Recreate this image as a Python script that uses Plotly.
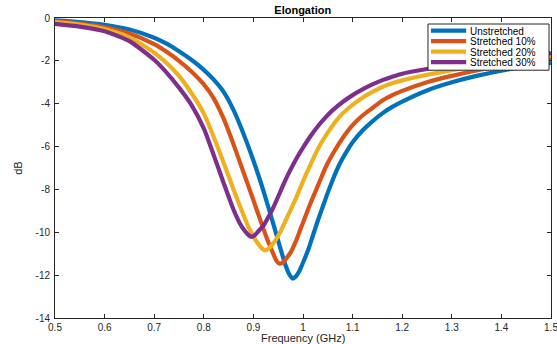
import plotly.graph_objects as go

# ---- data ----
f_unstretched = [0.5, 0.55, 0.6, 0.65, 0.7, 0.725, 0.75, 0.775, 0.8, 0.82, 0.84, 0.86, 0.88, 0.9, 0.92,
                 0.94, 0.955, 0.965, 0.972, 0.979, 0.986, 0.993, 1.0, 1.01, 1.02, 1.03, 1.04, 1.05, 1.06,
                 1.07, 1.08, 1.09, 1.1, 1.12, 1.14, 1.16, 1.18, 1.2, 1.25, 1.3, 1.35, 1.4, 1.45, 1.5]
db_unstretched = [-0.11, -0.19, -0.32, -0.54, -0.92, -1.2, -1.55, -1.95, -2.42, -2.88, -3.45, -4.3, -5.4,
                  -6.65, -8.05, -9.6, -10.8, -11.55, -11.95, -12.16, -12.05, -11.8, -11.42, -10.85, -10.15,
                  -9.45, -8.8, -8.15, -7.55, -7.0, -6.55, -6.15, -5.8, -5.25, -4.82, -4.45, -4.15, -3.9,
                  -3.38, -3.0, -2.7, -2.46, -2.26, -2.1]

f_s10 = [0.5, 0.55, 0.6, 0.65, 0.7, 0.725, 0.75, 0.775, 0.8, 0.82, 0.84, 0.86, 0.88, 0.9, 0.915, 0.93,
         0.94, 0.947, 0.953, 0.96, 0.967, 0.975, 0.985, 0.995, 1.005, 1.015, 1.025, 1.035, 1.045, 1.055,
         1.065, 1.08, 1.1, 1.12, 1.14, 1.16, 1.18, 1.2, 1.25, 1.3, 1.35, 1.4, 1.45, 1.5]
db_s10 = [-0.16, -0.26, -0.43, -0.72, -1.22, -1.58, -2.0, -2.5, -3.1, -3.75, -4.7, -5.9, -7.2, -8.5, -9.5,
          -10.45, -11.0, -11.35, -11.46, -11.4, -11.2, -10.95, -10.45, -9.85, -9.25, -8.65, -8.1, -7.55,
          -7.0, -6.55, -6.15, -5.6, -5.0, -4.55, -4.2, -3.85, -3.6, -3.4, -3.0, -2.7, -2.45, -2.24, -2.05, -1.9]

f_s20 = [0.5, 0.55, 0.6, 0.65, 0.7, 0.725, 0.75, 0.775, 0.8, 0.82, 0.84, 0.86, 0.875, 0.89, 0.9, 0.91,
         0.917, 0.923, 0.93, 0.937, 0.945, 0.955, 0.965, 0.975, 0.985, 0.995, 1.005, 1.015, 1.025, 1.035,
         1.05, 1.065, 1.08, 1.1, 1.12, 1.14, 1.16, 1.18, 1.2, 1.25, 1.3, 1.35, 1.4, 1.45, 1.5]
db_s20 = [-0.19, -0.31, -0.52, -0.9, -1.62, -2.1, -2.7, -3.5, -4.45, -5.55, -6.75, -8.0, -8.9, -9.75,
          -10.2, -10.55, -10.75, -10.84, -10.78, -10.6, -10.35, -9.95, -9.45, -8.95, -8.45, -7.9, -7.35,
          -6.85, -6.35, -5.9, -5.35, -4.85, -4.45, -4.05, -3.72, -3.45, -3.22, -3.05, -2.91, -2.65, -2.43,
          -2.23, -2.05, -1.9, -1.76]

f_s30 = [0.5, 0.55, 0.6, 0.65, 0.7, 0.725, 0.75, 0.775, 0.8, 0.82, 0.84, 0.86, 0.872, 0.882, 0.889,
         0.895, 0.902, 0.91, 0.92, 0.93, 0.94, 0.95, 0.96, 0.97, 0.98, 0.99, 1.0, 1.015, 1.03, 1.045,
         1.06, 1.08, 1.1, 1.12, 1.14, 1.16, 1.18, 1.2, 1.25, 1.3, 1.35, 1.4, 1.45, 1.5]
db_s30 = [-0.27, -0.4, -0.62, -1.08, -1.95, -2.55, -3.25, -4.05, -5.15, -6.4, -7.7, -8.95, -9.55, -9.92,
          -10.1, -10.21, -10.15, -9.95, -9.7, -9.3, -8.85, -8.33, -7.8, -7.3, -6.85, -6.43, -6.05, -5.52,
          -5.05, -4.65, -4.3, -3.92, -3.6, -3.33, -3.1, -2.9, -2.74, -2.6, -2.38, -2.2, -2.05, -1.9, -1.77,
          -1.64]

series_names = ["Unstretched", "Stretched 10%", "Stretched 20%", "Stretched 30%"]
series_colors = ["#0072BD", "#D95319", "#EDB120", "#7E2F8E"]

x_ticks = [0.5, 0.6, 0.7, 0.8, 0.9, 1.0, 1.1, 1.2, 1.3, 1.4, 1.5]
x_ticktext = ["0.5", "0.6", "0.7", "0.8", "0.9", "1", "1.1", "1.2", "1.3", "1.4", "1.5"]
y_ticks = [-14, -12, -10, -8, -6, -4, -2, 0]
y_ticktext = ["-14", "-12", "-10", "-8", "-6", "-4", "-2", "0"]
x_title = "Frequency (GHz)"
y_title = "dB"
chart_title = "Elongation"

FONT = "Liberation Sans, Arial, Helvetica"
AX = "#262626"

fig = go.Figure()
for fx, dy, name, col in zip([f_unstretched, f_s10, f_s20, f_s30],
                             [db_unstretched, db_s10, db_s20, db_s30],
                             series_names, series_colors):
    fig.add_trace(go.Scatter(x=fx, y=dy, mode="lines", name=name, showlegend=False,
                             line=dict(color=col, width=4.2, shape="spline", smoothing=0.6)))

axis_common = dict(showline=True, linecolor=AX, linewidth=1, mirror="ticks",
                   ticks="inside", ticklen=4, tickcolor=AX, showgrid=False, zeroline=False,
                   automargin=False,
                   tickfont=dict(family=FONT, size=10, color=AX))

# ---- legend drawn as a compact boxed list, like the reference ----
leg_x0, leg_x1, leg_y0, leg_y1 = 0.752, 0.996, 0.826, 0.98
shapes = [dict(type="rect", xref="paper", yref="paper", x0=leg_x0, x1=leg_x1, y0=leg_y0, y1=leg_y1,
               line=dict(color=AX, width=1), fillcolor="white", layer="above")]
annotations = []
row_y = [0.958, 0.923, 0.888, 0.853]
for name, col, yy in zip(series_names, series_colors, row_y):
    shapes.append(dict(type="line", xref="paper", yref="paper", x0=0.758, x1=0.829, y0=yy, y1=yy,
                       line=dict(color=col, width=4.2), layer="above"))
    annotations.append(dict(text=name, xref="paper", yref="paper", x=0.834, y=yy, xanchor="left",
                            yanchor="middle", showarrow=False, height=10, borderpad=0,
                            font=dict(family=FONT, size=10, color="black")))

# x-axis title placed just under the tick labels
annotations.append(dict(text=x_title, xref="paper", yref="paper", x=0.5, y=-0.066,
                        xanchor="center", yanchor="middle", showarrow=False, height=12, borderpad=0,
                        font=dict(family=FONT, size=11, color=AX)))

fig.update_layout(
    width=557, height=344,
    margin=dict(l=55, r=6, t=18, b=26),
    paper_bgcolor="white", plot_bgcolor="white",
    title=dict(text="<b>" + chart_title + "</b>", x=0.5435, xanchor="center", y=0.982, yanchor="top",
               font=dict(family=FONT, size=11, color="black")),
    xaxis=dict(range=[0.5, 1.5], tickvals=x_ticks, ticktext=x_ticktext, ticklabeloverflow="allow",
               ticklabelstandoff=0, **axis_common),
    yaxis=dict(range=[-14, 0], tickvals=y_ticks, ticktext=y_ticktext, ticklabelstandoff=2,
               title=dict(text=y_title, standoff=10,
                          font=dict(family=FONT, size=11, color=AX)),
               **axis_common),
    shapes=shapes,
    annotations=annotations,
    showlegend=False,
)

fig.write_html("out.html")
